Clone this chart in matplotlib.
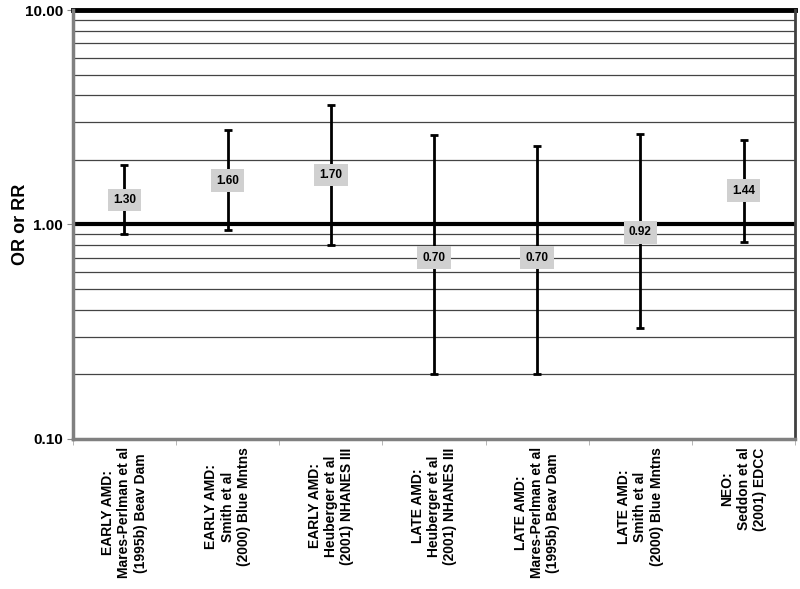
import numpy as np
import matplotlib.pyplot as plt

plt.rcParams['font.family'] = ['Liberation Sans', 'DejaVu Sans']

studies = ['EARLY AMD:\nMares-Perlman et al\n(1995b) Beav Dam',
           'EARLY AMD:\nSmith et al\n(2000) Blue Mntns',
           'EARLY AMD:\nHeuberger et al\n(2001) NHANES III',
           'LATE AMD:\nHeuberger et al\n(2001) NHANES III',
           'LATE AMD:\nMares-Perlman et al\n(1995b) Beav Dam',
           'LATE AMD:\nSmith et al\n(2000) Blue Mntns',
           'NEO:\nSeddon et al\n(2001) EDCC']
est = [1.30, 1.60, 1.70, 0.70, 0.70, 0.92, 1.44]
lower = [0.90, 0.94, 0.80, 0.20, 0.20, 0.33, 0.83]
upper = [1.90, 2.75, 3.60, 2.62, 2.32, 2.65, 2.47]

fig = plt.figure(figsize=(8, 5.89), dpi=100)
ax = fig.add_axes([0.091, 0.2547, 0.903, 0.7283])
ax.set_yscale('log')
ax.set_ylim(0.1, 10)
ax.set_xlim(0, len(studies))

# gridlines
for v in [0.2, 0.3, 0.4, 0.5, 0.6, 0.7, 0.8, 0.9, 2, 3, 4, 5, 6, 7, 8, 9]:
    ax.axhline(v, color='#444444', lw=0.9, zorder=1)
ax.axhline(1, color='black', lw=3, zorder=2)
ax.axhline(10, color='black', lw=3.5, zorder=2, clip_on=False)

x = np.arange(len(studies)) + 0.5
est = np.array(est)
yerr = [est - np.array(lower), np.array(upper) - est]
ax.errorbar(x, est, yerr=yerr, fmt='none', ecolor='black', elinewidth=2,
            capsize=3, capthick=2, zorder=3)
for xi, e in zip(x, est):
    ax.text(xi, e, '%.2f' % e, ha='center', va='center', fontsize=8.5,
            fontweight='bold', zorder=4,
            bbox=dict(boxstyle='square,pad=0.45', fc='#d0d0d0', ec='none'))

ax.set_yticks([0.1, 1, 10])
ax.set_yticklabels(['0.10', '1.00', '10.00'], fontsize=11, fontweight='bold')
ax.yaxis.set_minor_locator(plt.NullLocator())
ax.tick_params(axis='y', length=4, color='#888888', pad=3)

ax.set_xticks(x)
ax.set_xticklabels(studies, rotation=90, fontsize=10, fontweight='bold',
                   linespacing=1.2)
for lab in ax.get_xticklabels():
    lab.set_multialignment('center')
ax.set_xticks(np.arange(len(studies) + 1), minor=True)
ax.tick_params(axis='x', which='major', length=0, pad=6)
ax.tick_params(axis='x', which='minor', length=4, color='#aaaaaa')

ax.set_ylabel('OR or RR', fontsize=13, fontweight='bold')
ax.yaxis.set_label_coords(-0.06, 0.5)

for s in ['left', 'bottom']:
    ax.spines[s].set_color('#808080')
    ax.spines[s].set_linewidth(2.5)
ax.spines['right'].set_color('#404040')
ax.spines['right'].set_linewidth(2)
ax.spines['top'].set_visible(False)

fig.savefig('out.png', dpi=100)
